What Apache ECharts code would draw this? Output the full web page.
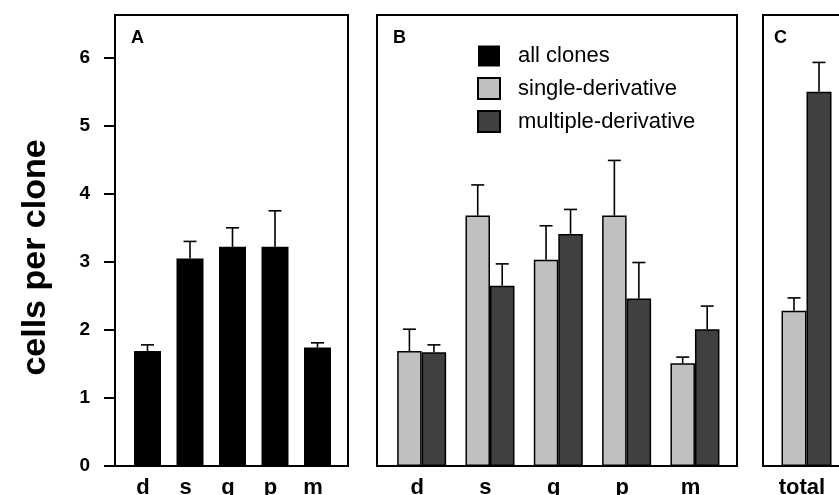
<!DOCTYPE html>
<html>
<head>
<meta charset="utf-8">
<script src="https://cdn.jsdelivr.net/npm/echarts@6/dist/echarts.min.js"></script>
<style>html,body{margin:0;padding:0;background:#fff}#c{width:839px;height:495px}</style>
</head>
<body>
<div id="c"></div>
<script>
// ---- data ----
var categories = ['d', 's', 'g', 'p', 'm'];
var totalCategory = ['total'];
var yTicks = [0, 1, 2, 3, 4, 5, 6];
var allClones = [1.69, 3.05, 3.22, 3.22, 1.74];
var allClonesErr = [0.09, 0.25, 0.28, 0.53, 0.07];
var singleDeriv = [1.69, 3.68, 3.03, 3.68, 1.51];
var singleDerivErr = [0.32, 0.45, 0.50, 0.81, 0.09];
var multiDeriv = [1.67, 2.65, 3.41, 2.46, 2.01];
var multiDerivErr = [0.11, 0.32, 0.36, 0.53, 0.34];
var totalSingle = [2.28];
var totalSingleErr = [0.19];
var totalMulti = [5.50];
var totalMultiErr = [0.43];

// ---- helpers ----
var FONT = 'Liberation Sans, Arial, Helvetica, sans-serif';
var YMAX = 6.627;
function errData(vals, errs) {
  return vals.map(function (v, i) { return [i, v, errs[i]]; });
}
function errRender(offset) {
  return function (params, api) {
    var x = api.value(0), v = api.value(1), e = api.value(2);
    var p0 = api.coord([x, v]);
    var p1 = api.coord([x, v + e]);
    var cx = p0[0] + offset;
    var st = { stroke: '#000', lineWidth: 1.6 };
    return { type: 'group', children: [
      { type: 'line', shape: { x1: cx, y1: p0[1], x2: cx, y2: p1[1] }, style: st },
      { type: 'line', shape: { x1: cx - 6.5, y1: p1[1], x2: cx + 6.5, y2: p1[1] }, style: st }
    ]};
  };
}
var frameGrid = function (left, width) {
  return { left: left, top: 15, width: width, height: 451, show: true, borderColor: '#000', borderWidth: 2,
    backgroundColor: 'transparent', containLabel: false, outerBoundsMode: 'none' };
};
var innerGrid = function (left, width) {
  return { left: left, top: 15, width: width, height: 451, containLabel: false, outerBoundsMode: 'none' };
};
var hiddenY = function (gi) { return { type: 'value', gridIndex: gi, min: 0, max: YMAX, show: false }; };
var hiddenX = function (gi) { return { type: 'value', gridIndex: gi, show: false }; };
var catX = function (gi, data) {
  return { type: 'category', gridIndex: gi, data: data, boundaryGap: true,
    axisLine: { show: false }, axisTick: { show: false },
    axisLabel: { color: '#000', fontFamily: FONT, fontWeight: 'bold', fontSize: 22, margin: 11, padding: [0, 9, 0, 0] } };
};
var titleStyle = { fontFamily: FONT, fontWeight: 'bold', fontSize: 18, color: '#000' };

var chart = echarts.init(document.getElementById('c'), null, { renderer: 'canvas' });
var option = {
  animation: false,
  backgroundColor: '#fff',
  title: [
    { text: 'A', left: 131, top: 29, padding: 0, textStyle: titleStyle },
    { text: 'B', left: 393, top: 29, padding: 0, textStyle: titleStyle },
    { text: 'C', left: 774, top: 29, padding: 0, textStyle: titleStyle }
  ],
  legend: {
    orient: 'vertical', left: 477, top: 45, padding: 0,
    icon: 'rect',
    itemWidth: 22, itemHeight: 21, itemGap: 10,
    data: ['all clones', 'single-derivative', 'multiple-derivative'],
    textStyle: { fontFamily: FONT, fontSize: 22, color: '#000', padding: [0, 0, 0, 13] }
  },
  grid: [
    frameGrid(115, 233),          // 0 frame A
    innerGrid(126.25, 212.5),     // 1 bars A
    frameGrid(377, 360),          // 2 frame B
    innerGrid(387.5, 341.6),      // 3 bars B
    frameGrid(763, 110),          // 4 frame C
    innerGrid(776.5, 60)          // 5 bars C
  ],
  xAxis: [
    hiddenX(0), catX(1, categories),
    hiddenX(2), catX(3, categories),
    hiddenX(4), catX(5, totalCategory)
  ],
  yAxis: [
    { type: 'value', gridIndex: 0, min: 0, max: YMAX, interval: 1,
      name: 'cells per clone', nameLocation: 'middle', nameRotate: 90, nameGap: 62,
      nameTextStyle: { fontFamily: FONT, fontWeight: 'bold', fontSize: 34, color: '#000', padding: [0, 34, 0, 0] },
      axisLine: { show: true, lineStyle: { color: '#000', width: 2 } },
      axisTick: { show: true, inside: false, length: 11, lineStyle: { color: '#000', width: 2 }, customValues: yTicks },
      axisLabel: { color: '#000', fontFamily: FONT, fontWeight: 'bold', fontSize: 19, margin: 25, customValues: yTicks },
      splitLine: { show: false } },
    hiddenY(1), hiddenY(2), hiddenY(3), hiddenY(4), hiddenY(5)
  ],
  series: [
    { name: 'all clones', type: 'bar', xAxisIndex: 1, yAxisIndex: 1, data: allClones, barWidth: 27,
      itemStyle: { color: '#000', borderColor: '#000', borderWidth: 0 } },
    { name: 'errA', type: 'custom', xAxisIndex: 1, yAxisIndex: 1, data: errData(allClones, allClonesErr),
      renderItem: errRender(0), encode: { x: 0, y: 1 }, z: 3 },

    { name: 'single-derivative', type: 'bar', xAxisIndex: 3, yAxisIndex: 3, data: singleDeriv, barWidth: 24.5, barGap: '0%',
      itemStyle: { color: '#c0c0c0', borderColor: '#000', borderWidth: 1.5 } },
    { name: 'multiple-derivative', type: 'bar', xAxisIndex: 3, yAxisIndex: 3, data: multiDeriv, barWidth: 24.5, barGap: '0%',
      itemStyle: { color: '#404040', borderColor: '#000', borderWidth: 1.5 } },
    { name: 'errBs', type: 'custom', xAxisIndex: 3, yAxisIndex: 3, data: errData(singleDeriv, singleDerivErr),
      renderItem: errRender(-12.25), encode: { x: 0, y: 1 }, z: 3 },
    { name: 'errBm', type: 'custom', xAxisIndex: 3, yAxisIndex: 3, data: errData(multiDeriv, multiDerivErr),
      renderItem: errRender(12.25), encode: { x: 0, y: 1 }, z: 3 },

    { name: 'single-derivative', type: 'bar', xAxisIndex: 5, yAxisIndex: 5, data: totalSingle, barWidth: 25, barGap: '0%',
      itemStyle: { color: '#c0c0c0', borderColor: '#000', borderWidth: 1.5 } },
    { name: 'multiple-derivative', type: 'bar', xAxisIndex: 5, yAxisIndex: 5, data: totalMulti, barWidth: 25, barGap: '0%',
      itemStyle: { color: '#404040', borderColor: '#000', borderWidth: 1.5 } },
    { name: 'errCs', type: 'custom', xAxisIndex: 5, yAxisIndex: 5, data: errData(totalSingle, totalSingleErr),
      renderItem: errRender(-12.5), encode: { x: 0, y: 1 }, z: 3 },
    { name: 'errCm', type: 'custom', xAxisIndex: 5, yAxisIndex: 5, data: errData(totalMulti, totalMultiErr),
      renderItem: errRender(12.5), encode: { x: 0, y: 1 }, z: 3 }
  ]
};
chart.setOption(option);
</script>
</body>
</html>
